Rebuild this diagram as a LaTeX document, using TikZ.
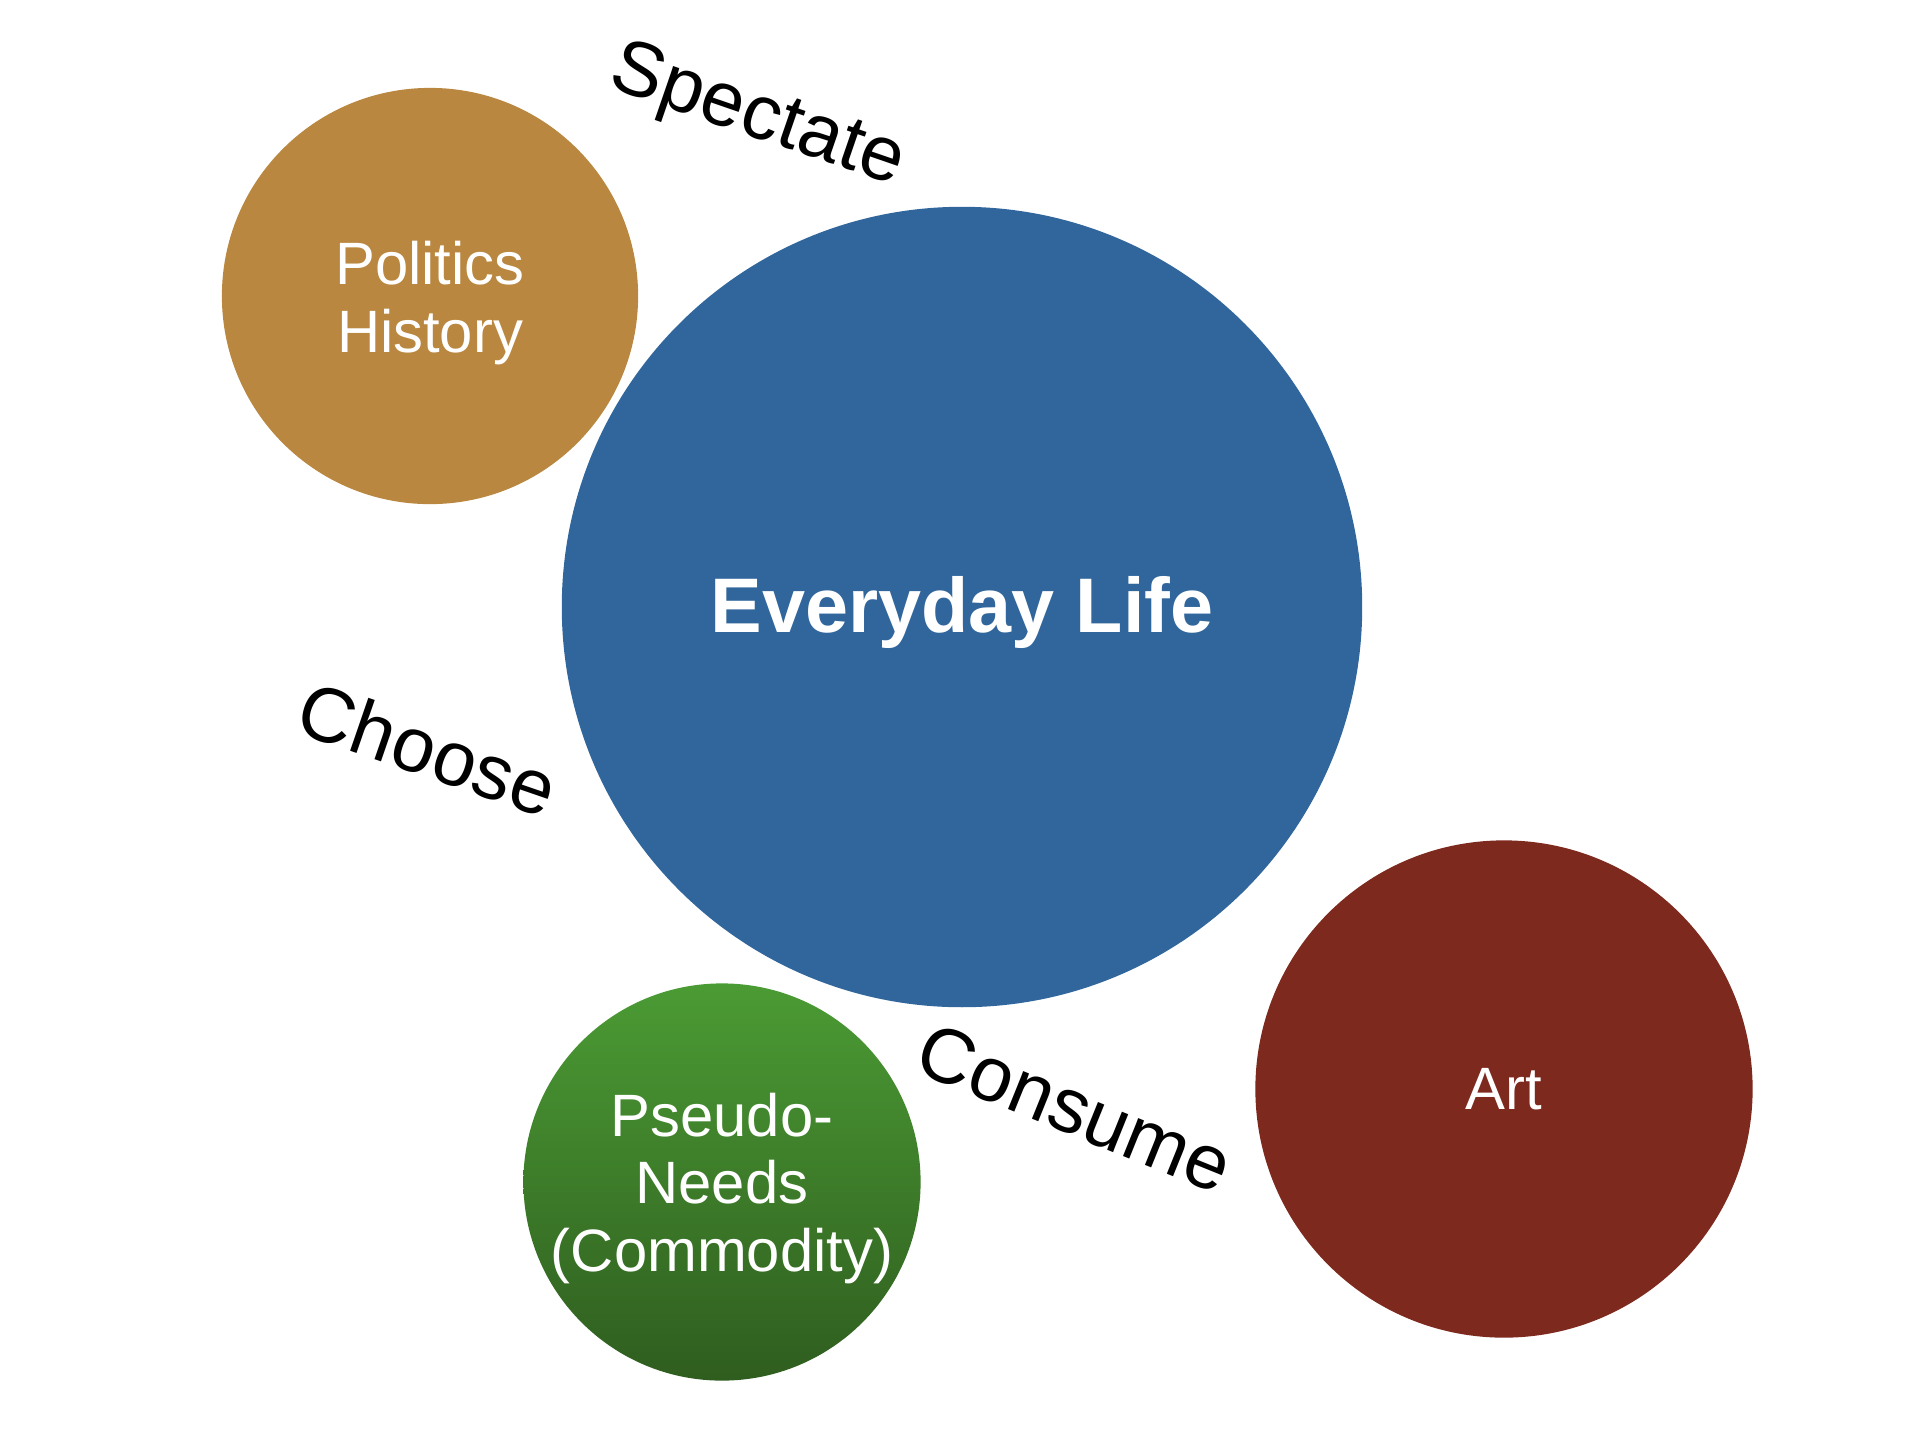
\documentclass[tikz,border=0pt]{standalone}
\usepackage{fontspec}
\setmainfont{Liberation Sans}
\definecolor{histbrown}{HTML}{BA8740}
\definecolor{lifeblue}{HTML}{31669C}
\definecolor{artred}{HTML}{7D291E}
\definecolor{needtop}{HTML}{4B9B34}
\definecolor{needbot}{HTML}{2F5D1F}
\tikzset{
  bubble/.style={circle, inner sep=0pt},
  bubtext/.style={text=white, align=center, inner sep=0pt,
                  font=\fontsize{17}{19.2}\selectfont},
  verb/.style={text=black, font=\fontsize{22}{26}\selectfont}
}

\begin{document}
\begin{tikzpicture}[x=0.01cm, y=-0.01cm]
  %
  \useasboundingbox (0,0) rectangle (1920,1444);
  %
  \node[bubble, fill=lifeblue, minimum size=8.0cm] (life) at (962,607) {};
  \node[bubble, fill=histbrown, minimum size=4.16cm] (hist) at (430,296) {};
  \node[bubble, top color=needtop, bottom color=needbot, minimum size=3.97cm] (needs) at (722,1182) {};
  \node[bubble, fill=artred, minimum size=4.97cm] (art) at (1504,1089) {};
  %
  \node[bubtext, font=\fontsize{22}{26}\selectfont\bfseries] (lifetext) at ([yshift=-1.6pt]life.center) {Everyday Life};
  \node[bubtext] (histtext) at ([yshift=-2pt]hist.center) {Politics\\History};
  \node[bubtext] (needstext) at ([yshift=-1.8pt]needs.center) {Pseudo-\\Needs\\(Commodity)};
  \node[bubtext] (arttext) at (art.center) {Art};
  %
  \node[verb, rotate=-19] (spectate) at (757,118) {Spectate};
  \node[verb, rotate=-19] (choose) at (428,749) {Choose};
  \node[verb, rotate=-22] (consume) at (1075,1108) {Consume};
  %
\end{tikzpicture}
\end{document}
